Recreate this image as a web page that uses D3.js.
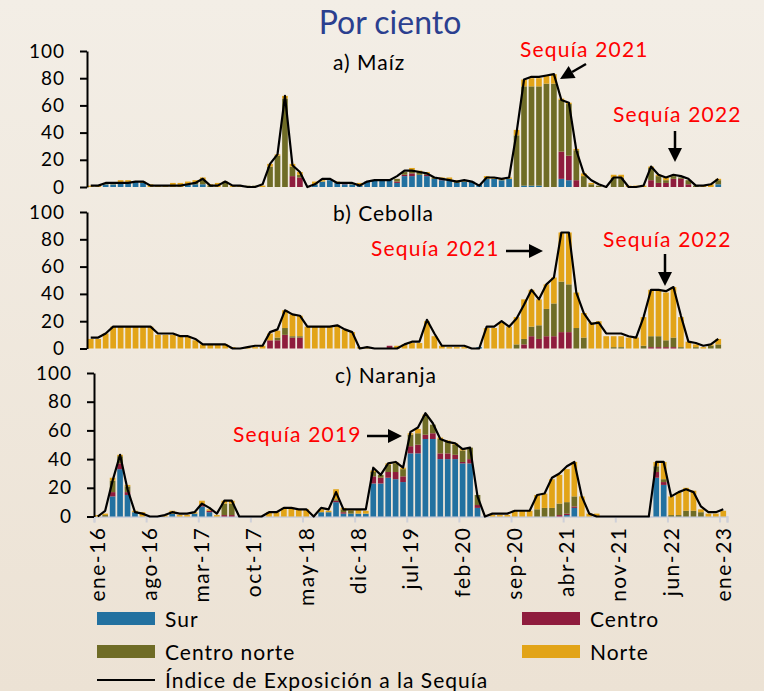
<!DOCTYPE html>
<html>
<head>
<meta charset="utf-8">
<script src="https://cdn.jsdelivr.net/npm/d3@7"></script>
<style>
body { margin: 0; background: #efe7db; }
svg { display: block; font-family: Lato, "Open Sans", sans-serif; }
</style>
</head>
<body>
<svg id="chart" width="764" height="691"></svg>
<script>
const meses = ['ene', 'feb', 'mar', 'abr', 'may', 'jun', 'jul', 'ago', 'sep', 'oct', 'nov', 'dic'];
const months = d3.range(85).map((i) => meses[i % 12] + '-' + (16 + Math.floor(i / 12)));
const tickLabels = ['ene-16', 'ago-16', 'mar-17', 'oct-17', 'may-18', 'dic-18', 'jul-19', 'feb-20', 'sep-20', 'abr-21', 'nov-21', 'jun-22', 'ene-23'];
const yTicks = [0, 20, 40, 60, 80, 100];
const regiones = ['Sur', 'Centro', 'Centro norte', 'Norte'];

// a) Maíz
const maizSur = [0,0,2,2,3,3,4,3,0,0, 0,0,0,2,2,2,0,0,0,0, 0,0,0,0,0,0,0,0,0,0, 2,4,5,3,2,2,1,4,5,5, 5,3,8,8,9,8,6,5,5,3, 4,4,2,6,6,5,6,0,1,1, 1,0,0,6,5,0,0,0,0,0, 0,0,0,0,0,0,0,0,0,0, 0,0,0,0,2];
const maizCentro = [0,0,0,0,0,0,0,0,0,0, 0,0,0,0,0,0,0,0,0,0, 0,0,0,0,0,0,0,8,7,0, 0,0,0,0,1,0,0,0,0,0, 0,1,1,2,0,1,0,1,0,0, 0,0,0,0,0,0,0,0,0,0, 0,0,0,20,18,5,0,0,0,0, 0,0,0,0,0,5,3,3,6,6, 2,0,0,0,0];
const maizCentroNorte = [0,0,0,0,0,0,0,0,0,0, 0,0,0,0,1,3,1,0,3,0, 0,1,1,0,15,23,65,7,2,0, 0,0,0,0,0,0,0,0,0,0, 0,2,2,2,2,1,1,0,0,1, 0,0,0,0,0,0,0,38,73,73, 73,76,76,38,38,22,8,2,1,0, 7,7,0,0,0,9,5,2,2,1, 3,1,0,0,3];
const maizNorte = [1,1,1,1,2,2,0,1,2,1, 1,3,3,2,2,2,1,3,1,1, 1,0,0,1,2,1,2,2,2,0, 2,1,0,1,0,1,2,0,0,0, 0,0,0,2,1,1,0,1,2,1, 1,0,0,2,1,1,1,4,5,6, 6,6,7,1,1,1,2,1,0,0, 2,2,1,1,1,1,1,2,0,0, 0,0,1,2,1];
const maizIndice = [1,1,3,3,3,3,4,4,1,1, 1,1,1,2,3,6,1,1,4,1, 1,0,0,2,17,24,67,16,11,0, 2,6,6,3,3,3,1,4,5,5, 5,8,12,12,11,10,7,6,5,4, 5,4,1,7,7,6,7,40,79,81, 81,82,83,64,62,27,10,5,2,0, 7,7,0,0,1,15,9,7,9,8, 6,1,1,2,6];

// b) Cebolla
const cebollaSur = [0,0,0,0,0,0,0,0,0,0, 0,0,0,0,0,0,0,0,0,0, 0,0,0,0,0,0,0,0,0,0, 0,0,0,0,0,0,0,0,0,0, 0,0,0,0,0,0,0,0,0,0, 0,0,1,0,0,0,0,0,0,0, 0,0,0,0,0,0,0,0,0,0, 0,0,0,0,0,0,0,0,0,0, 0,0,0,0,0];
const cebollaCentro = [0,0,0,0,0,0,0,0,0,0, 0,0,0,0,0,0,0,0,0,0, 0,0,0,0,6,6,10,8,8,0, 0,0,0,0,0,0,0,0,0,0, 2,0,0,0,0,0,0,0,0,0, 0,0,0,0,0,0,0,0,3,9, 7,9,9,12,12,0,0,0,0,0, 0,0,0,0,0,1,1,1,1,0, 0,0,0,0,0];
const cebollaCentroNorte = [0,0,0,0,0,0,0,0,0,0, 0,0,0,0,0,0,0,0,0,0, 0,0,0,0,0,2,5,1,1,0, 0,0,0,0,0,0,0,0,0,0, 0,0,0,0,0,0,0,0,0,0, 0,0,0,0,0,0,0,3,4,7, 10,20,24,37,35,15,8,0,0,0, 1,1,0,0,2,8,8,5,7,1, 0,1,0,2,3];
const cebollaNorte = [7,7,11,16,16,16,16,16,16,10, 10,10,9,9,6,3,3,3,3,1, 0,1,1,2,5,5,13,16,15,16, 16,16,16,17,14,12,1,1,0,0, 0,2,3,4,4,20,9,2,1,1, 1,0,0,15,15,19,16,20,29,27, 19,18,19,36,38,26,18,19,20,9, 8,8,8,8,21,34,34,35,37,22, 5,2,1,1,4];
const cebollaIndice = [8,8,11,16,16,16,16,16,16,11, 11,11,9,9,7,3,3,3,3,0, 0,1,2,2,12,14,28,25,24,16, 16,16,16,17,14,12,0,1,0,0, 0,0,3,5,5,21,11,2,2,2, 2,0,0,16,16,20,16,22,32,43, 36,47,52,85,85,41,26,18,19,11, 11,11,9,8,23,43,43,42,45,24, 5,4,2,3,7];

// c) Naranja
const naranjaSur = [0,0,14,33,15,3,0,0,0,0, 2,0,0,2,7,3,0,0,0,0, 0,0,0,0,0,0,0,0,0,0, 3,3,10,2,2,2,2,23,23,27, 26,24,44,44,54,54,40,40,40,37, 37,6,0,0,0,0,0,0,0,0, 0,0,0,1,6,0,0,0,0,0, 0,0,0,0,0,27,22,0,0,0, 0,0,0,0,0];
const naranjaCentro = [0,0,3,4,2,0,0,0,0,0, 0,0,0,0,1,1,0,1,1,0, 0,0,0,0,0,0,0,0,0,0, 0,0,1,1,0,0,0,5,4,4, 5,4,5,6,3,4,4,4,3,1, 3,2,0,0,0,0,0,0,0,0, 0,0,1,1,1,0,0,0,0,0, 0,0,0,0,0,4,2,0,0,0, 0,0,0,0,0];
const naranjaCentroNorte = [0,1,8,5,4,0,0,0,0,0, 0,0,0,0,0,0,0,8,8,0, 0,0,0,0,0,0,0,0,0,0, 0,0,1,2,2,0,0,3,2,5, 6,5,8,8,13,6,10,8,7,8, 8,7,0,0,0,0,0,0,0,5, 6,6,8,8,7,0,0,0,0,0, 0,0,0,0,0,4,2,1,1,4, 4,3,0,0,0];
const naranjaNorte = [1,1,2,1,1,1,3,0,0,1, 2,1,1,1,3,1,1,2,2,0, 0,0,0,3,3,6,6,5,5,0, 2,1,7,1,1,3,2,1,0,1, 1,1,1,3,1,0,1,1,1,1, 0,0,0,1,1,1,4,4,4,10, 10,20,20,23,24,14,2,2,0,0, 0,0,0,0,0,3,12,13,16,16, 14,2,2,2,4];
const naranjaIndice = [0,4,25,43,19,3,2,0,0,1, 3,2,2,3,9,6,2,11,11,0, 0,0,0,3,3,6,6,5,5,0, 6,5,17,5,5,5,5,34,29,37, 38,34,59,62,72,65,54,52,51,47, 48,14,0,2,2,2,4,4,4,15, 16,27,30,35,38,14,2,0,0,0, 0,0,0,0,0,38,38,14,17,19, 17,7,3,3,5];

const colores = { 'Sur': '#2271a0', 'Centro': '#8f1c3d', 'Centro norte': '#6f6c26', 'Norte': '#e2a418' };

var panels = [
    { titulo: 'a) Maíz', series: [maizSur, maizCentro, maizCentroNorte, maizNorte], indice: maizIndice,
      x0: 87, x1: 722, y0: 187, y1: 51, tx: 333, ty: 70 },
    { titulo: 'b) Cebolla', series: [cebollaSur, cebollaCentro, cebollaCentroNorte, cebollaNorte], indice: cebollaIndice,
      x0: 87, x1: 722, y0: 348.5, y1: 212, tx: 333, ty: 221 },
    { titulo: 'c) Naranja', series: [naranjaSur, naranjaCentro, naranjaCentroNorte, naranjaNorte], indice: naranjaIndice,
      x0: 94, x1: 727, y0: 516.5, y1: 373, tx: 335, ty: 383, ejeX: true }
];

var anotaciones = [
    { texto: 'Sequía 2021', tx: 520, ty: 57, from: [586, 64], to: [560, 79] },
    { texto: 'Sequía 2022', tx: 613, ty: 122, from: [675, 131], to: [675, 162] },
    { texto: 'Sequía 2021', tx: 371, ty: 256, from: [506, 251], to: [543, 251] },
    { texto: 'Sequía 2022', tx: 603, ty: 247, from: [665, 254], to: [665, 286] },
    { texto: 'Sequía 2019', tx: 233, ty: 442, from: [367, 436], to: [402, 436] }
];

const svg = d3.select('#chart');

var grad = svg.append('defs').append('linearGradient').attr('id', 'fondo')
    .attr('x1', 0).attr('y1', 0).attr('x2', 0).attr('y2', 1);
grad.append('stop').attr('offset', '0%').attr('stop-color', '#f3eee6');
grad.append('stop').attr('offset', '100%').attr('stop-color', '#ece2d4');
svg.append('rect').attr('width', 764).attr('height', 691).attr('fill', 'url(#fondo)');

svg.append('text').attr('x', 390).attr('y', 34).attr('text-anchor', 'middle')
    .attr('font-size', 32).attr('fill', '#2b3f8f').text('Por ciento');

panels.forEach((p) => {
    var g = svg.append('g');

    var scale = {
        x: d3.scaleBand().domain(months).range([p.x0, p.x1]).paddingInner(0.24).paddingOuter(0.12),
        y: d3.scaleLinear().domain([0, 100]).range([p.y0, p.y1])
    };
    var bw = scale.x.bandwidth();

    var rows = months.map((m, i) => {
        var row = { mes: m };
        regiones.forEach((r, k) => { row[r] = p.series[k][i]; });
        return row;
    });
    var stacked = d3.stack().keys(regiones)(rows);

    if (p.ejeX) {
        var bounds = d3.scaleLinear().domain([0, 85]).range([p.x0, p.x1]);
        var ax = g.append('g').attr('transform', `translate(0,${p.y0})`)
            .call(d3.axisBottom(bounds).tickValues(d3.range(0, 85, 7).concat([85])).tickSize(6).tickFormat(''));
        ax.selectAll('path, line').attr('stroke', '#cfd0d8').attr('stroke-width', 2);
    }

    g.selectAll('g.serie').data(stacked).join('g')
        .attr('fill', (d) => colores[d.key])
        .selectAll('rect').data((d) => d).join('rect')
        .attr('x', (d) => scale.x(d.data.mes))
        .attr('width', bw)
        .attr('y', (d) => scale.y(d[1]))
        .attr('height', (d) => scale.y(d[0]) - scale.y(d[1]));

    var lineGenerator = d3.line()
        .x((d, i) => scale.x(months[i]) + bw / 2)
        .y((d) => scale.y(d));
    g.append('path').attr('d', lineGenerator(p.indice))
        .attr('fill', 'none').attr('stroke', '#000').attr('stroke-width', 2.2).attr('stroke-linejoin', 'round');

    var ay = g.append('g').attr('transform', `translate(${p.x0},0)`)
        .call(d3.axisLeft(scale.y).tickValues(yTicks).tickSize(7).tickSizeOuter(0).tickPadding(15));
    ay.selectAll('path, line').attr('stroke', '#000').attr('stroke-width', 2);
    ay.selectAll('text').attr('font-size', 19).attr('letter-spacing', 1).attr('font-family', 'Lato, sans-serif').attr('fill', '#000');

    g.append('text').attr('x', p.tx).attr('y', p.ty).attr('font-size', 21).attr('letter-spacing', 1).text(p.titulo);

    if (p.ejeX) {
        g.selectAll('text.mes').data(tickLabels).join('text').attr('class', 'mes')
            .attr('transform', (d) => `translate(${scale.x(d) + bw / 2},${p.y0 + 10}) rotate(-90)`)
            .attr('text-anchor', 'end').attr('dy', '0.35em').attr('font-size', 21).attr('letter-spacing', 1.5).text((d) => d);
    }
});

anotaciones.forEach((a) => {
    svg.append('text').attr('x', a.tx).attr('y', a.ty).attr('font-size', 21)
        .attr('fill', '#ff0000').attr('letter-spacing', 1.2).text(a.texto);
    var dx = a.to[0] - a.from[0], dy = a.to[1] - a.from[1];
    var len = Math.sqrt(dx * dx + dy * dy), ux = dx / len, uy = dy / len;
    var head = 14, half = 7;
    var bx = a.to[0] - ux * head, by = a.to[1] - uy * head;
    svg.append('line').attr('x1', a.from[0]).attr('y1', a.from[1]).attr('x2', bx).attr('y2', by)
        .attr('stroke', '#000').attr('stroke-width', 2.5);
    svg.append('path')
        .attr('d', `M${a.to[0]},${a.to[1]}L${bx - uy * half},${by + ux * half}L${bx + uy * half},${by - ux * half}Z`)
        .attr('fill', '#000');
});

var leyenda = [
    { nombre: 'Sur', x: 97, y: 612 },
    { nombre: 'Centro', x: 522, y: 612 },
    { nombre: 'Centro norte', x: 97, y: 645 },
    { nombre: 'Norte', x: 522, y: 645 }
];
var lg = svg.append('g').attr('font-size', 21).attr('letter-spacing', 1);
lg.selectAll('rect').data(leyenda).join('rect')
    .attr('x', (d) => d.x).attr('y', (d) => d.y).attr('width', 58).attr('height', 13)
    .attr('fill', (d) => colores[d.nombre]);
lg.selectAll('text').data(leyenda).join('text')
    .attr('x', (d) => d.x + 68).attr('y', (d) => d.y + 15).text((d) => d.nombre);
lg.append('line').attr('x1', 97).attr('x2', 155).attr('y1', 680).attr('y2', 680)
    .attr('stroke', '#000').attr('stroke-width', 2);
lg.append('text').attr('x', 165).attr('y', 688).text('Índice de Exposición a la Sequía');
</script>
</body>
</html>
